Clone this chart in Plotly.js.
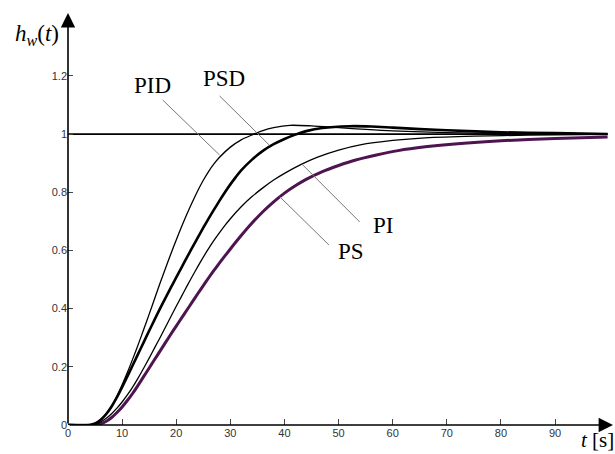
<!DOCTYPE html>
<html>
<head>
<meta charset="utf-8">
<script src="https://cdn.plot.ly/plotly-3.0.1.min.js"></script>
<style>html,body{margin:0;padding:0;background:#fff;}#chart{width:615px;height:454px;}</style>
</head>
<body>
<div id="chart"></div>
<script>
// ---- data ----
const pidT = [0,4,5,6,7,8,9,10,11,12,13,14,15,16,17,18,19,20,21,22,23,24,25,26,27,28,30,32,34,36,38,41,45,50,55,60,70,80,90,99.7];
const pidY = [0,0,0.005,0.018,0.038,0.064,0.097,0.138,0.182,0.229,0.278,0.329,0.381,0.434,0.487,0.538,0.588,0.636,0.682,0.726,0.767,0.806,0.841,0.872,0.898,0.92,0.955,0.98,0.997,1.012,1.022,1.03,1.028,1.022,1.016,1.011,1.005,1.002,1.001,1.0];

const psdT = [0,4,5,6,7,8,9,10,11,12,13,14,15,16,17,18,19,20,21,22,23,24,25,26,27,28,29,30,31,32,34,36,38,40,42,44,47,52,56,60,65,70,80,90,99.7];
const psdY = [0,0,0.005,0.017,0.036,0.062,0.094,0.13,0.168,0.207,0.246,0.285,0.324,0.362,0.4,0.436,0.472,0.507,0.542,0.577,0.611,0.645,0.678,0.71,0.741,0.771,0.8,0.827,0.852,0.875,0.912,0.942,0.965,0.983,0.998,1.01,1.021,1.027,1.026,1.022,1.017,1.013,1.006,1.003,1.0];

const piT = [0,4,5,6,7,8,9,10,11,12,13,14,15,16,17,18,19,20,21,22,23,24,25,26,27,28,29,30,32,34,36,38,40,43,46,50,54,60,66,75,85,99.7];
const piY = [0,0,0.003,0.01,0.022,0.038,0.057,0.079,0.104,0.132,0.163,0.196,0.23,0.265,0.3,0.336,0.372,0.408,0.443,0.478,0.512,0.545,0.577,0.607,0.635,0.661,0.686,0.709,0.75,0.785,0.815,0.842,0.865,0.895,0.92,0.945,0.963,0.978,0.987,0.993,0.996,0.999];

const psT = [0,5,6,7,8,9,10,11,12,13,14,15,16,17,18,19,20,21,22,23,24,25,26,27,28,29,30,32,34,36,38,40,42,44,47,50,53,57,61,66,72,80,90,99.7];
const psY = [0,0,0.004,0.012,0.025,0.042,0.062,0.085,0.11,0.138,0.167,0.196,0.225,0.254,0.283,0.312,0.34,0.368,0.396,0.424,0.452,0.479,0.506,0.532,0.557,0.581,0.605,0.651,0.694,0.733,0.767,0.797,0.822,0.844,0.871,0.892,0.91,0.928,0.943,0.956,0.967,0.977,0.985,0.99];

const refT = [0, 99.7];
const refY = [1, 1];

const xTicks = [0,10,20,30,40,50,60,70,80,90];
const xTickText = ["0","10","20","30","40","50","60","70","80","90"];
const yTicks = [0,0.2,0.4,0.6,0.8,1,1.2];
const yTickText = ["0","0.2","0.4","0.6","0.8","1","1.2"];

const labelNames = ["PID","PSD","PI","PS"];
const labelX = [15.7, 28.8, 58.2, 52.3];
const labelY = [1.168, 1.191, 0.687, 0.596];
const leaderFromX = [17.5, 28.0, 43.1, 39.1];
const leaderFromY = [1.117, 1.131, 0.899, 0.785];
const leaderToX = [28.0, 37.2, 53.9, 48.2];
const leaderToY = [0.928, 0.962, 0.698, 0.619];

const xMax = 100.7, yMax = 1.416;

// ---- traces ----
const traces = [
  {x: refT, y: refY, mode: 'lines', line: {color: '#000', width: 1.8}, hoverinfo: 'skip'},
  {x: psT, y: psY, mode: 'lines', line: {color: '#4e1450', width: 3, shape: 'spline', smoothing: 0.8}, name: 'PS'},
  {x: piT, y: piY, mode: 'lines', line: {color: '#000', width: 1.3, shape: 'spline', smoothing: 0.8}, name: 'PI'},
  {x: psdT, y: psdY, mode: 'lines', line: {color: '#000', width: 2.6, shape: 'spline', smoothing: 0.8}, name: 'PSD'},
  {x: pidT, y: pidY, mode: 'lines', line: {color: '#000', width: 1.3, shape: 'spline', smoothing: 0.8}, name: 'PID'}
];

const shapes = labelNames.map((n, i) => ({
  type: 'line', xref: 'x', yref: 'y',
  x0: leaderFromX[i], y0: leaderFromY[i], x1: leaderToX[i], y1: leaderToY[i],
  line: {color: '#777', width: 1}
}));

const annotations = labelNames.map((n, i) => ({
  x: labelX[i], y: labelY[i], xref: 'x', yref: 'y', text: n, showarrow: false,
  xanchor: 'center', yanchor: 'middle',
  font: {family: 'Liberation Serif, Times New Roman, serif', size: 23, color: '#000'}
}));

// axes with arrowheads
annotations.push({
  x: xMax, y: 0, ax: 0, ay: 0, xref: 'x', yref: 'y', axref: 'x', ayref: 'y',
  text: '', showarrow: true, arrowhead: 2, arrowsize: 1.8, arrowwidth: 1.6, arrowcolor: '#000'
});
annotations.push({
  x: 0, y: yMax, ax: 0, ay: 0, xref: 'x', yref: 'y', axref: 'x', ayref: 'y',
  text: '', showarrow: true, arrowhead: 2, arrowsize: 1.8, arrowwidth: 1.6, arrowcolor: '#000'
});
// axis titles (pixel positions converted to paper coords below)
annotations.push({
  x: 37, y: 35, xref: 'paper', yref: 'paper', showarrow: false, xanchor: 'center', yanchor: 'middle',
  text: '<i>h</i><sub><i>w</i></sub>(<i>t</i>)',
  font: {family: 'Liberation Serif, Times New Roman, serif', size: 23, color: '#000'}
});
annotations.push({
  x: 597, y: 440, xref: 'paper', yref: 'paper', showarrow: false, xanchor: 'center', yanchor: 'middle',
  text: '<i>t</i> [s]',
  font: {family: 'Liberation Serif, Times New Roman, serif', size: 21, color: '#000'}
});

const W = 615, H = 454, mL = 68, mR = 2, mT = 13, mB = 29;
const pw = W - mL - mR, ph = H - mT - mB;
annotations.forEach(a => {
  if (a.xref === 'paper') {
    a.x = (a.x - mL) / pw;
    a.y = 1 - (a.y - mT) / ph;
  }
});

const layout = {
  width: W, height: H,
  margin: {l: mL, r: mR, t: mT, b: mB, pad: 0},
  paper_bgcolor: '#fff', plot_bgcolor: '#fff',
  showlegend: false,
  xaxis: {
    range: [0, xMax], showgrid: false, zeroline: false, showline: false,
    tickmode: 'array', tickvals: xTicks, ticktext: xTickText,
    ticks: 'inside', ticklen: 6, tickcolor: '#444', tickwidth: 1,
    tickfont: {family: 'Liberation Sans, Arial, sans-serif', size: 11, color: '#333'}
  },
  yaxis: {
    range: [0, yMax], showgrid: false, zeroline: false, showline: false,
    tickmode: 'array', tickvals: yTicks, ticktext: yTickText,
    ticks: 'inside', ticklen: 5, tickcolor: '#444', tickwidth: 1,
    tickfont: {family: 'Liberation Sans, Arial, sans-serif', size: 11, color: '#333'}
  },
  shapes: shapes,
  annotations: annotations
};

Plotly.newPlot('chart', traces, layout, {displayModeBar: false, staticPlot: true});
</script>
</body>
</html>
